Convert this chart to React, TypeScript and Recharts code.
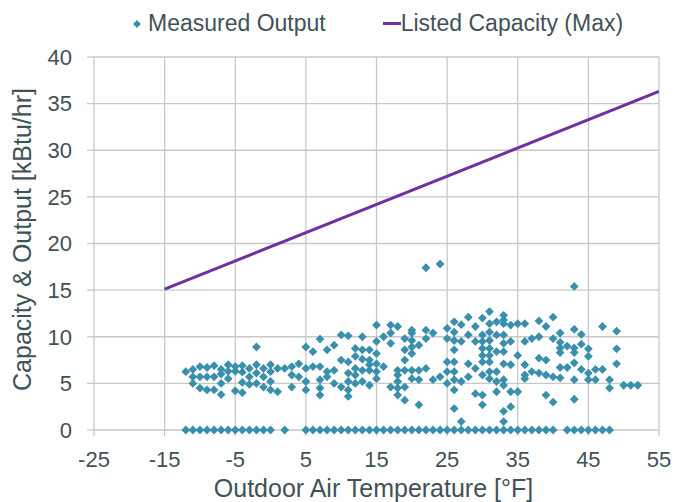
import {
  ComposedChart,
  Scatter,
  Line,
  XAxis,
  YAxis,
  CartesianGrid,
} from "recharts";

const TEXT = "#3f5258";
const TEAL = "#3a8fad";
const PURPLE = "#7030a0";
const GRID = "#c8c8c8";
const FONT = "'Liberation Sans', Arial, sans-serif";

const X_TICKS = [-25, -15, -5, 5, 15, 25, 35, 45, 55];
const Y_TICKS = [0, 5, 10, 15, 20, 25, 30, 35, 40];

// outdoor temp -> measured outputs (kBtu/hr)
const measuredColumns: [number, number[]][] = [
  [-12, [6.25]],
  [-11, [6.5, 5.7, 5.0]],
  [-10, [6.8, 5.7, 4.5]],
  [-9, [6.7, 5.7, 4.3]],
  [-8, [6.9, 5.7, 4.3]],
  [-7, [6.5, 6.0, 5.0, 3.8]],
  [-6, [7.0, 6.3, 5.5]],
  [-5, [6.8, 6.3, 4.2]],
  [-4, [6.9, 6.2, 5.1, 4.0]],
  [-3, [6.6, 5.7, 4.9]],
  [-2, [8.9, 7.0, 6.1, 5.0]],
  [-1, [6.6, 5.7, 4.6]],
  [0, [7.0, 6.25, 5.2, 4.3]],
  [1, [6.6, 4.1]],
  [2, [6.6]],
  [3, [6.8, 5.9, 4.6]],
  [4, [7.1, 5.7]],
  [5, [8.9, 6.6, 5.2, 4.3]],
  [6, [8.4, 6.8]],
  [7, [9.75, 6.8, 5.4, 4.5, 3.75]],
  [8, [8.6, 6.25, 5.7]],
  [9, [9.1, 6.4, 5.0]],
  [10, [10.2, 7.5, 4.6]],
  [11, [10.1, 7.3, 6.1, 5.2, 4.3, 3.6]],
  [12, [8.75, 7.9, 6.6, 5.9, 5.0]],
  [13, [10.0, 8.6, 7.6, 6.4, 5.2]],
  [14, [8.6, 7.5, 7.0, 6.4, 4.8]],
  [15, [11.25, 9.5, 8.2, 7.1, 6.25, 5.5]],
  [16, [10.0, 6.8]],
  [17, [11.25, 10.4, 9.3, 4.6]],
  [18, [11.1, 6.4, 5.9, 5.2, 4.5, 3.75]],
  [19, [9.8, 8.6, 7.5, 6.4, 4.6, 3.2]],
  [20, [10.7, 10.4, 9.6, 8.9, 8.2, 6.4, 5.5]],
  [21, [9.1, 6.4, 5.4, 2.7]],
  [22, [17.4, 10.7, 9.8, 6.6]],
  [23, [10.4, 5.4]],
  [24, [17.8, 5.7]],
  [25, [10.9, 9.8, 7.3, 6.25, 5.0]],
  [26, [11.6, 10.5, 9.6, 8.6, 7.3, 6.25, 5.4, 4.3, 2.3]],
  [27, [11.3, 9.5, 5.2, 0.9]],
  [28, [12.1, 10.2, 7.1, 5.7]],
  [29, [11.1, 9.5, 6.6, 3.9]],
  [30, [12.0, 10.2, 9.5, 8.75, 8.0, 7.3, 5.9, 3.75, 2.7]],
  [31, [12.7, 11.4, 10.5, 9.6, 8.75, 8.0, 7.3, 6.25, 5.5]],
  [32, [11.6, 10.2, 8.4, 6.25, 5.2, 4.1]],
  [33, [12.3, 11.8, 11.4, 10.2, 9.3, 8.4, 7.1, 5.4, 4.8, 2.0, 0.9]],
  [34, [11.25, 9.5, 7.0, 4.1, 2.5]],
  [35, [11.4, 8.0, 4.1]],
  [36, [11.4, 9.5, 7.0, 5.9, 5.5]],
  [37, [9.8, 6.25]],
  [38, [11.7, 10.0, 7.7, 6.1]],
  [39, [11.1, 7.5, 5.9, 3.75]],
  [40, [12.1, 9.8, 5.7, 3.0]],
  [41, [10.4, 9.4, 8.8, 8.3, 6.7, 5.6]],
  [42, [9.0, 6.7]],
  [43, [15.4, 10.8, 8.8, 8.3, 7.2, 5.4, 3.3]],
  [44, [10.25, 9.2, 6.5]],
  [45, [8.7, 7.9, 6.1, 5.4]],
  [46, [6.5, 5.4]],
  [47, [11.1, 6.5]],
  [48, [5.4, 4.5]],
  [49, [10.6, 8.7, 7.1]],
  [50, [4.8]],
  [51, [4.8]],
  [52, [4.8]],
];

// temps where measured output was zero
const zeroTemps = [
  -12, -11, -10, -9, -8, -7, -6, -5, -4, -3, -2, -1, 0, 2, 5, 6, 7, 8, 9,
  10, 11, 12, 13, 14, 15, 16, 17, 18, 19, 20, 21, 22, 23, 24, 25, 26, 27,
  28, 29, 30, 31, 32, 33, 34, 35, 36, 37, 38, 39, 40, 42, 43, 44, 45, 46,
  47, 48,
];

const capacityTemps = [-15, 55];
const capacityValues = [15.1, 36.3];

const measured = [
  ...measuredColumns.flatMap(([t, vals]) => vals.map((v) => ({ x: t, y: v }))),
  ...zeroTemps.map((t) => ({ x: t, y: 0 })),
];
const capacity = capacityTemps.map((t, i) => ({ x: t, y: capacityValues[i] }));

function Diamond(props: any) {
  const { cx, cy } = props;
  const r = 4.4;
  return (
    <polygon
      points={`${cx},${cy - r} ${cx + r},${cy} ${cx},${cy + r} ${cx - r},${cy}`}
      fill={TEAL}
    />
  );
}

export default function App() {
  return (
    <div
      style={{
        position: "absolute",
        left: 0,
        top: 0,
        width: 686,
        height: 502,
        background: "#fff",
        fontFamily: FONT,
      }}
    >
      <div
        style={{
          position: "absolute",
          top: 10,
          left: 0,
          width: 686,
          display: "flex",
          alignItems: "center",
          fontSize: 23,
          color: TEXT,
        }}
      >
        <svg width={10} height={10} style={{ marginLeft: 132, marginRight: 6 }}>
          <polygon points="5,1 9,5 5,9 1,5" fill={TEAL} />
        </svg>
        <span>Measured Output</span>
        <div
          style={{
            width: 18,
            height: 3,
            background: PURPLE,
            marginLeft: 57,
          }}
        />
        <span>Listed Capacity (Max)</span>
      </div>

      <ComposedChart
        width={686}
        height={502}
        margin={{ top: 57, right: 27, bottom: 2, left: 34 }}
      >
        <CartesianGrid stroke={GRID} strokeWidth={1.3} />
        <XAxis
          type="number"
          dataKey="x"
          domain={[-25, 55]}
          ticks={X_TICKS}
          allowDataOverflow
          axisLine={false}
          tickLine={{ stroke: GRID, strokeWidth: 1.3 }}
          tickSize={6}
          height={70}
          tick={{ fill: TEXT, fontSize: 22, fontFamily: FONT }}
          tickMargin={15}
          label={{
            content: ({ viewBox }: any) => (
              <text
                x={viewBox.x + viewBox.width / 2 - 3}
                y={viewBox.y + 67}
                textAnchor="middle"
                fill={TEXT}
                fontSize={25}
                fontFamily={FONT}
              >
                Outdoor Air Temperature [°F]
              </text>
            ),
          }}
        />
        <YAxis
          type="number"
          dataKey="y"
          domain={[0, 40]}
          ticks={Y_TICKS}
          axisLine={false}
          tickLine={{ stroke: GRID, strokeWidth: 1.3 }}
          tickSize={7}
          width={60}
          tick={{ fill: TEXT, fontSize: 22, fontFamily: FONT }}
          tickMargin={15}
          label={{
            content: ({ viewBox }: any) => {
              const cx = 31;
              const cy = viewBox.y + viewBox.height / 2 - 4;
              return (
                <text
                  x={cx}
                  y={cy}
                  transform={`rotate(-90 ${cx} ${cy})`}
                  textAnchor="middle"
                  fill={TEXT}
                  fontSize={25}
                  fontFamily={FONT}
                >
                  Capacity &amp; Output [kBtu/hr]
                </text>
              );
            },
          }}
        />
        <Scatter
          data={measured}
          dataKey="y"
          shape={<Diamond />}
          isAnimationActive={false}
        />
        <Line
          data={capacity}
          dataKey="y"
          type="linear"
          stroke={PURPLE}
          strokeWidth={3}
          dot={false}
          activeDot={false}
          isAnimationActive={false}
        />
      </ComposedChart>
    </div>
  );
}
